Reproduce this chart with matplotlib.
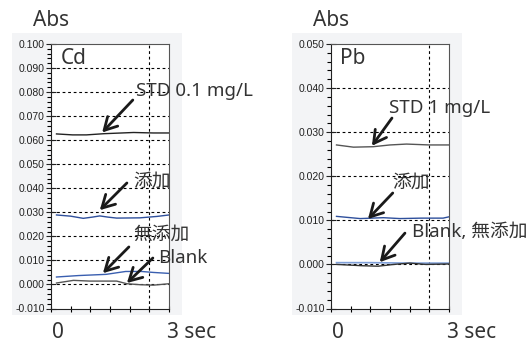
import matplotlib
matplotlib.use("Agg")
import matplotlib.pyplot as plt
from matplotlib.patches import Rectangle
from matplotlib.ticker import MultipleLocator, FormatStrFormatter

# Cd panel (time in sec, absorbance)
cd_std_t = [0.14, 0.55, 0.9, 1.35, 1.8, 2.1, 2.6, 3.0]
cd_std_v = [0.0626, 0.0622, 0.0622, 0.0627, 0.0630, 0.0632, 0.0630, 0.0630]
cd_add_t = [0.14, 0.5, 0.82, 1.05, 1.24, 1.45, 1.67, 2.26, 2.7, 3.0]
cd_add_v = [0.0289, 0.0284, 0.0275, 0.0280, 0.0285, 0.0280, 0.0276, 0.0277, 0.0283, 0.0289]
cd_noadd_t = [0.14, 0.7, 1.4, 1.9, 2.3, 2.6, 3.0]
cd_noadd_v = [0.0031, 0.0037, 0.0042, 0.0054, 0.0054, 0.0050, 0.0046]
cd_blank_t = [0.14, 0.57, 0.99, 1.67, 1.93, 2.26, 2.6, 3.0]
cd_blank_v = [0.0006, 0.0017, 0.0014, 0.0014, 0.0003, -0.0001, -0.0003, 0.0003]

# Pb panel
pb_std_t = [0.14, 0.57, 1.07, 1.5, 1.92, 2.5, 3.0]
pb_std_v = [0.0271, 0.0266, 0.0267, 0.0271, 0.0273, 0.0271, 0.0271]
pb_add_t = [0.14, 0.74, 1.33, 1.75, 2.3, 2.85, 3.0]
pb_add_v = [0.0109, 0.0104, 0.0106, 0.0104, 0.0105, 0.0105, 0.0108]
pb_noadd_t = [0.14, 1.0, 2.0, 3.0]
pb_noadd_v = [0.0004, 0.0004, 0.0003, 0.0003]
pb_blank_t = [0.14, 0.8, 1.2, 1.6, 2.0, 2.4, 3.0]
pb_blank_v = [0.0, -0.0003, -0.0004, 0.0, 0.0003, 0.0, 0.0001]

# labels: (text, arrow head, arrow tail, text pos)
cd_labels = [
    ("STD 0.1 mg/L", (1.3, 0.0632), (2.08, 0.0767), (2.16, 0.0804)),
    ("添加", (1.24, 0.0309), (1.93, 0.0422), (2.08, 0.0426)),
    ("無添加", (1.32, 0.0047), (1.98, 0.0156), (2.08, 0.0205)),
    ("Blank", (1.93, 0.0006), (2.59, 0.0110), (2.72, 0.0110)),
]
pb_labels = [
    ("STD 1 mg/L", (1.04, 0.0269), (1.55, 0.0332), (1.47, 0.0355)),
    ("添加", (0.94, 0.0103), (1.57, 0.0162), (1.55, 0.0185)),
    ("Blank, 無添加", (1.24, 0.0005), (1.88, 0.0071), (2.06, 0.0074)),
]

W, H = 530, 342
fam = ['Noto Sans', 'Noto Sans CJK JP', 'DejaVu Sans']
tcol = '#333333'

fig = plt.figure(figsize=(W / 100, H / 100), dpi=100)

def px_rect(x0, y0, x1, y1):
    return [x0 / W, 1 - y1 / H, (x1 - x0) / W, (y1 - y0) / H]

def panel(x0, ymax, ystep, name, lines, labels):
    bx = px_rect(x0 - 39, 33, x0 + 131, 315)
    fig.patches.append(Rectangle((bx[0], bx[1]), bx[2], bx[3], transform=fig.transFigure,
                                 facecolor='#f3f4f6', edgecolor='none', zorder=-5))
    ax = fig.add_axes(px_rect(x0, 44, x0 + 118, 308.5))
    ax.set_zorder(2)
    ax.set_xlim(0, 3)
    ax.set_ylim(-0.010, ymax)
    ax.yaxis.set_major_locator(MultipleLocator(ystep))
    ax.yaxis.set_minor_locator(MultipleLocator(0.002))
    ax.yaxis.set_major_formatter(FormatStrFormatter('%.3f'))
    ax.xaxis.set_major_locator(MultipleLocator(0.5))
    ax.set_xticklabels([])
    ax.tick_params(axis='y', which='major', direction='inout', length=7, width=0.8,
                   labelsize=7.5, pad=1, colors='#222222')
    ax.tick_params(axis='y', which='minor', direction='out', length=3, width=0.8)
    ax.tick_params(axis='x', which='major', direction='inout', length=5, width=0.8)
    for lab in ax.get_yticklabels():
        lab.set_family('Liberation Sans')
    for s in ax.spines.values():
        s.set_linewidth(0.8)
        s.set_color('#555555')
    ax.spines['left'].set_color('#222222')
    ax.spines['bottom'].set_color('#222222')
    for yv in ax.get_yticks():
        if -0.010 < yv < ymax - 1e-9:
            ax.axhline(yv, color='black', lw=0.8, ls=(0, (2.5, 2.5)), zorder=1)
    ax.axvline(2.5, color='black', lw=0.8, ls=(0, (2.5, 2.5)), zorder=1)
    for t, v, c, lw in lines:
        ax.plot(t, v, color=c, lw=lw, zorder=2)
    for text, head, tail, tpos in labels:
        ax.annotate('', xy=head, xytext=tail, annotation_clip=False,
                    arrowprops=dict(arrowstyle='->,head_length=0.9,head_width=0.5',
                                    color='#1a1a1a', lw=2, mutation_scale=10,
                                    shrinkA=0, shrinkB=0), zorder=4)
        ax.text(tpos[0], tpos[1], text, fontsize=13.5, family=fam, color=tcol,
                ha='left', va='center', clip_on=False, zorder=5)
    ax.text(0.08, 0.985, name, transform=ax.transAxes, fontsize=15, family=fam,
            color=tcol, ha='left', va='top')
    fig.text((x0 - 18) / W, 1 - 20 / H, 'Abs', fontsize=15, family=fam, color=tcol,
             ha='left', va='center')
    fig.text((x0 + 7) / W, 1 - 333 / H, '0', fontsize=15, family=fam, color=tcol,
             ha='center', va='center')
    fig.text((x0 + 116) / W, 1 - 333 / H, '3 sec', fontsize=15, family=fam, color=tcol,
             ha='left', va='center')
    return ax

panel(51, 0.100, 0.010, 'Cd', [
    (cd_std_t, cd_std_v, '#222222', 1.0),
    (cd_add_t, cd_add_v, '#2e4f9c', 1.0),
    (cd_noadd_t, cd_noadd_v, '#3a5fb0', 1.0),
    (cd_blank_t, cd_blank_v, '#555555', 1.0),
], cd_labels)

panel(331, 0.050, 0.010, 'Pb', [
    (pb_std_t, pb_std_v, '#555555', 1.0),
    (pb_add_t, pb_add_v, '#2e4f9c', 1.0),
    (pb_noadd_t, pb_noadd_v, '#7f9fd8', 1.2),
    (pb_blank_t, pb_blank_v, '#333333', 1.0),
], pb_labels)

fig.savefig('out.png', dpi=100)
